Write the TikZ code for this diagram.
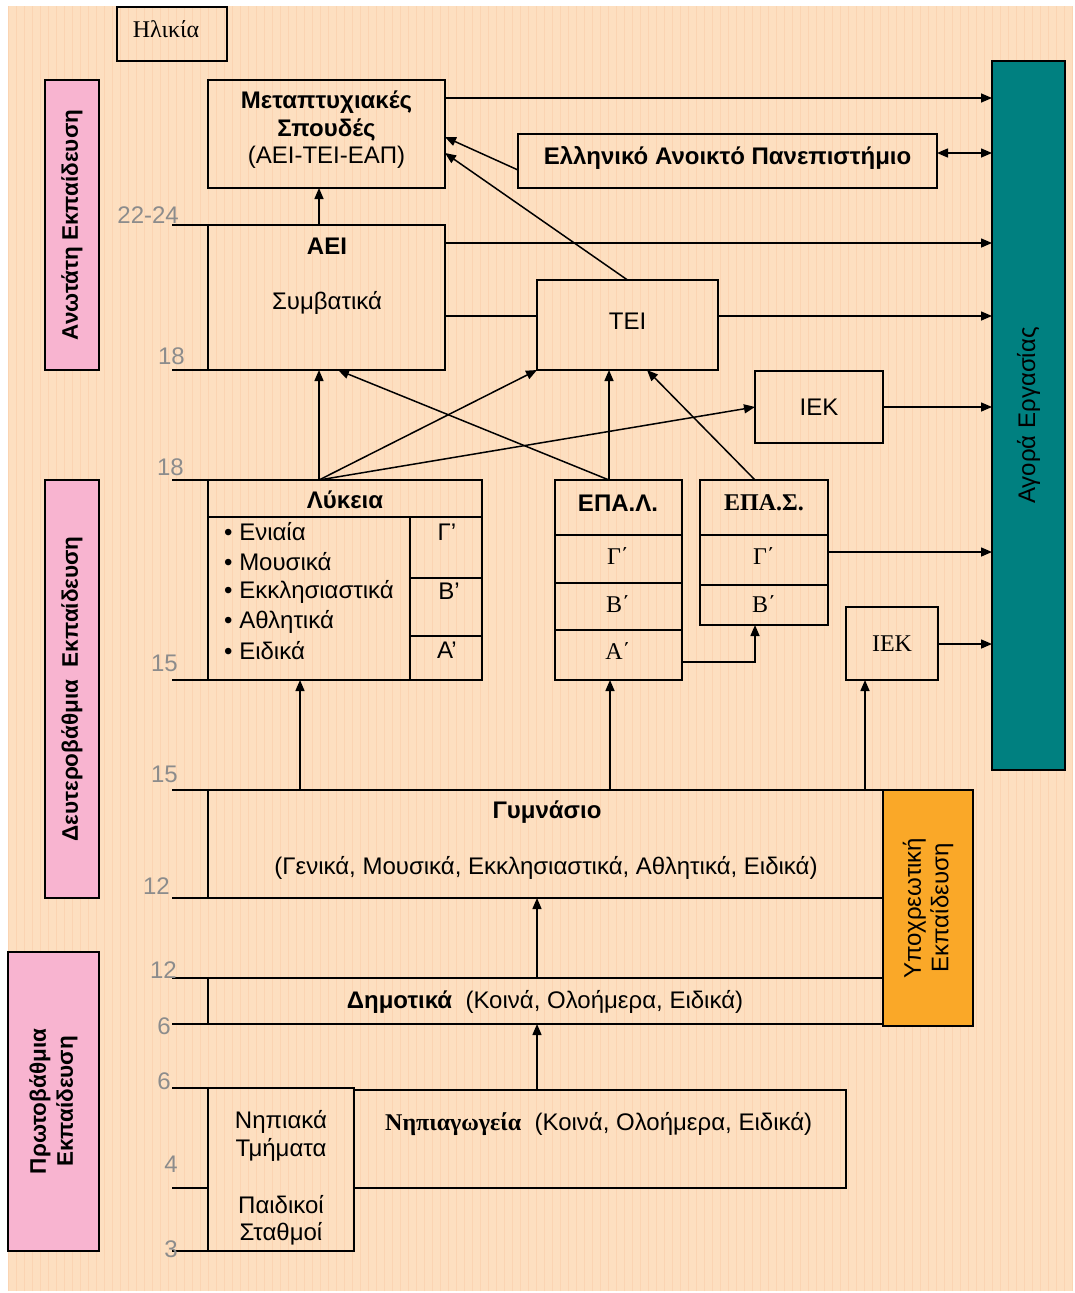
\documentclass[tikz,border=0pt]{standalone}
\usepackage{fontspec}
\setmainfont{Liberation Sans}
\newfontfamily\srf{Liberation Serif}
\usetikzlibrary{arrows.meta,calc}
\definecolor{bgpeach}{RGB}{253,223,192}
\definecolor{gridc}{RGB}{251,212,178}
\definecolor{pinkc}{RGB}{248,180,208}
\definecolor{tealc}{RGB}{0,128,128}
\definecolor{orangec}{RGB}{250,168,40}
\definecolor{agec}{RGB}{140,140,140}
\newcommand\fsz{\fontsize{24pt}{27.5pt}\selectfont}
\newcommand\sidesz{\fontsize{22.5pt}{27pt}\selectfont}
\newcommand\agesz{\fontsize{24pt}{26pt}\selectfont}
\begin{document}
\begin{tikzpicture}[x=1pt,y=-1pt,
 box/.style={draw=black, line width=1.3pt, inner sep=0pt, outer sep=0pt, anchor=north west},
 lbl/.style={font=\fsz, inner sep=0pt, align=center},
 age/.style={font=\agesz, text=agec, inner sep=0pt, anchor=base east},
 arr/.style={-{Triangle[length=11pt,width=9pt]}, line width=1.5pt},
 darr/.style={{Triangle[length=11pt,width=9pt]}-{Triangle[length=11pt,width=9pt]}, line width=1.5pt},
 plain/.style={line width=1.3pt}]
\useasboundingbox (0,0) rectangle (1074,1293);
\fill[white] (0,0) rectangle (1074,1293);
\fill[bgpeach] (8,6) rectangle (1072,1291);
\draw[gridc, line width=0.35pt, step=8] (8,6) grid (1072,1291);

% age box
\node[box, minimum width=110, minimum height=54] (agebox) at (117,7) {};
\node[lbl, font=\srf\fsz] (ageT) at ($(agebox.center)+(-6,-5)$) {Ηλικία};

% side labels
\node[box, fill=pinkc, minimum width=54, minimum height=290] (ane) at (45,80) {};
\node[lbl, rotate=90, font=\bfseries\sidesz] (aneT) at (ane.center) {Ανωτάτη Εκπαίδευση};
\node[box, fill=pinkc, minimum width=54, minimum height=418] (deu) at (45,480) {};
\node[lbl, rotate=90, font=\bfseries\sidesz] (deuT) at (deu.center) {Δευτεροβάθμια\ \ Εκπαίδευση};
\node[box, fill=pinkc, minimum width=91, minimum height=299] (prot) at (8,952) {};
\node[lbl, rotate=90, font=\bfseries\sidesz] (protT) at (prot.center) {Πρωτοβάθμια\\Εκπαίδευση};
\node[box, fill=tealc, minimum width=73, minimum height=709] (market) at (992,61) {};
\node[lbl, rotate=90] (marketT) at (market.center) {Αγορά Εργασίας};

% higher education
\node[box, minimum width=237, minimum height=108] (meta) at (208,80) {};
\node[lbl] (metaT) at ($(meta.center)+(0,-4)$) {\textbf{Μεταπτυχιακές}\\\textbf{Σπουδές}\\(ΑΕΙ-ΤΕΙ-ΕΑΠ)};
\node[box, minimum width=419, minimum height=54] (eap) at (518,134) {};
\node[lbl, font=\bfseries\fsz] (eapT) at ($(eap.center)+(0,-3)$) {Ελληνικό Ανοικτό Πανεπιστήμιο};
\node[box, minimum width=237, minimum height=145] (aei) at (208,225) {};
\node[lbl, font=\bfseries\fsz] (aeiT) at (327,246) {ΑΕΙ};
\node[lbl] (aeiS) at (327,303) {Συμβατικά};
\node[box, minimum width=181, minimum height=90] (tei) at (537,280) {};
\node[lbl] (teiT) at ($(tei.center)+(0,-4)$) {ΤΕΙ};
\node[box, minimum width=128, minimum height=72] (iek1) at (755,371) {};
\node[lbl] (iek1T) at (iek1.center) {ΙΕΚ};

% Lykeia
\node[box, minimum width=274, minimum height=200] (lyk) at (208,480) {};
\draw[plain] (208,517) -- (482,517);
\draw[plain] (410,517) -- (410,680);
\draw[plain] (410,578) -- (482,578);
\draw[plain] (410,636) -- (482,636);
\node[lbl, font=\bfseries\fsz] (lykT) at (345,500) {Λύκεια};
\node[lbl, anchor=west] (l1) at (224,532) {• Ενιαία};
\node[lbl, anchor=west] (l2) at (224,562) {• Μουσικά};
\node[lbl, anchor=west] (l3) at (224,592) {• Εκκλησιαστικά};
\node[lbl, anchor=west] (l4) at (224,622) {• Αθλητικά};
\node[lbl, anchor=west] (l5) at (224,651) {• Ειδικά};
\node[lbl] (lg) at (447,532) {Γ’};
\node[lbl] (lb) at (449,591) {Β’};
\node[lbl] (la) at (447,650) {Α’};

% EPAL
\node[box, minimum width=127, minimum height=200] (epal) at (555,480) {};
\draw[plain] (555,535) -- (682,535);
\draw[plain] (555,583) -- (682,583);
\draw[plain] (555,630) -- (682,630);
\node[lbl, font=\bfseries\fsz] (epalT) at (618,503) {ΕΠΑ.Λ.};
\node[lbl, font=\srf\fsz] (eg) at (618,556) {Γ΄};
\node[lbl, font=\srf\fsz] (eb) at (618,604) {Β΄};
\node[lbl, font=\srf\fsz] (ea) at (618,651) {Α΄};

% EPAS
\node[box, minimum width=128, minimum height=145] (epas) at (700,480) {};
\draw[plain] (700,535) -- (828,535);
\draw[plain] (700,585) -- (828,585);
\node[lbl, font=\srf\bfseries\fsz] (epasT) at (764,503) {ΕΠΑ.Σ.};
\node[lbl, font=\srf\fsz] (sg) at (764,556) {Γ΄};
\node[lbl, font=\srf\fsz] (sb) at (764,604) {Β΄};

\node[box, minimum width=92, minimum height=73] (iek2) at (846,607) {};
\node[lbl, font=\srf\fsz] (iek2T) at (iek2.center) {ΙΕΚ};

% Gymnasio, Dimotika
\node[box, minimum width=675, minimum height=108] (gym) at (208,790) {};
\node[lbl, font=\bfseries\fsz] (gymT) at (547,812) {Γυμνάσιο};
\node[lbl] (gymS) at (546,868) {(Γενικά, Μουσικά, Εκκλησιαστικά, Αθλητικά, Ειδικά)};
\node[box, minimum width=675, minimum height=46] (dim) at (208,978) {};
\node[lbl] (dimT) at (545,1002) {\textbf{Δημοτικά}\ \ (Κοινά, Ολοήμερα, Ειδικά)};
\node[box, fill=orangec, minimum width=90, minimum height=236] (ypo) at (883,790) {};
\node[lbl, rotate=90] (ypoT) at (ypo.center) {Υποχρεωτική\\Εκπαίδευση};

% pre-school
\node[box, minimum width=146, minimum height=163] (nip) at (208,1088) {};
\node[lbl, font=\fsz] (nip1) at (281,1136) {Νηπιακά\\Τμήματα};
\node[lbl, font=\fsz] (nip2) at (281,1220) {Παιδικοί\\Σταθμοί};
\node[box, minimum width=492, minimum height=98] (nipg) at (354,1090) {};
\node[lbl, anchor=west] (nipgT) at (385,1124) {{\srf\bfseries Νηπιαγωγεία}\ \ (Κοινά, Ολοήμερα, Ειδικά)};

% age scale
\foreach \yy in {225,370,480,680,790,898,978,1024,1088,1188,1251}
  \draw[plain] (172,\yy) -- (208,\yy);
\node[age] (a1) at (179,223) {22-24};
\node[age] (a2) at (185,364) {18};
\node[age] (a3) at (184,475) {18};
\node[age] (a4) at (178,671) {15};
\node[age] (a5) at (178,782) {15};
\node[age] (a6) at (170,894) {12};
\node[age] (a7) at (177,978) {12};
\node[age] (a8) at (171,1034) {6};
\node[age] (a9) at (171,1089) {6};
\node[age] (a10) at (178,1172) {4};
\node[age] (a11) at (178,1257) {3};

% connectors
\draw[arr] (meta.east |- 0,98) -- (market.west |- 0,98);
\draw[darr] (eap.east |- 0,153) -- (market.west |- 0,153);
\draw[arr] (eap.west |- 0,170) -- (meta.east |- 0,137);
\draw[arr] (tei.north) -- (meta.east |- 0,153);
\draw[arr] (aei.north -| 319,0) -- (meta.south -| 319,0);
\draw[arr] (aei.east |- 0,243) -- (market.west |- 0,243);
\draw[plain] (aei.east |- 0,316) -- (tei.west |- 0,316);
\draw[arr] (tei.east |- 0,316) -- (market.west |- 0,316);
\draw[arr] (iek1.east) -- (market.west |- iek1.east);

\coordinate (lykTop) at (lyk.north -| 319,0);
\draw[arr] (lykTop) -- (aei.south -| lykTop);
\draw[arr] (lykTop) -- (tei.south west);
\draw[arr] (lykTop) -- (iek1.west);
\coordinate (epalTop) at (epal.north -| 609,0);
\draw[arr] (epalTop) -- (aei.south -| 338,0);
\draw[arr] (epalTop) -- (tei.south -| epalTop);
\coordinate (epasTop) at (epas.north -| 755,0);
\draw[arr] (epasTop) -- (tei.south -| 647,0);
\draw[arr] (epas.east |- 0,552) -- (market.west |- 0,552);
\draw[arr] (epal.east |- 0,662) -| (epas.south -| 755,0);
\draw[arr] (iek2.east |- 0,644) -- (market.west |- 0,644);

\draw[arr] (gym.north -| 300,0) -- (lyk.south -| 300,0);
\draw[arr] (gym.north -| 610,0) -- (epal.south -| 610,0);
\draw[arr] (gym.north -| 865,0) -- (iek2.south -| 865,0);
\draw[arr] (dim.north -| 537,0) -- (gym.south -| 537,0);
\draw[arr] (nipg.north -| 537,0) -- (dim.south -| 537,0);
\end{tikzpicture}
\end{document}
